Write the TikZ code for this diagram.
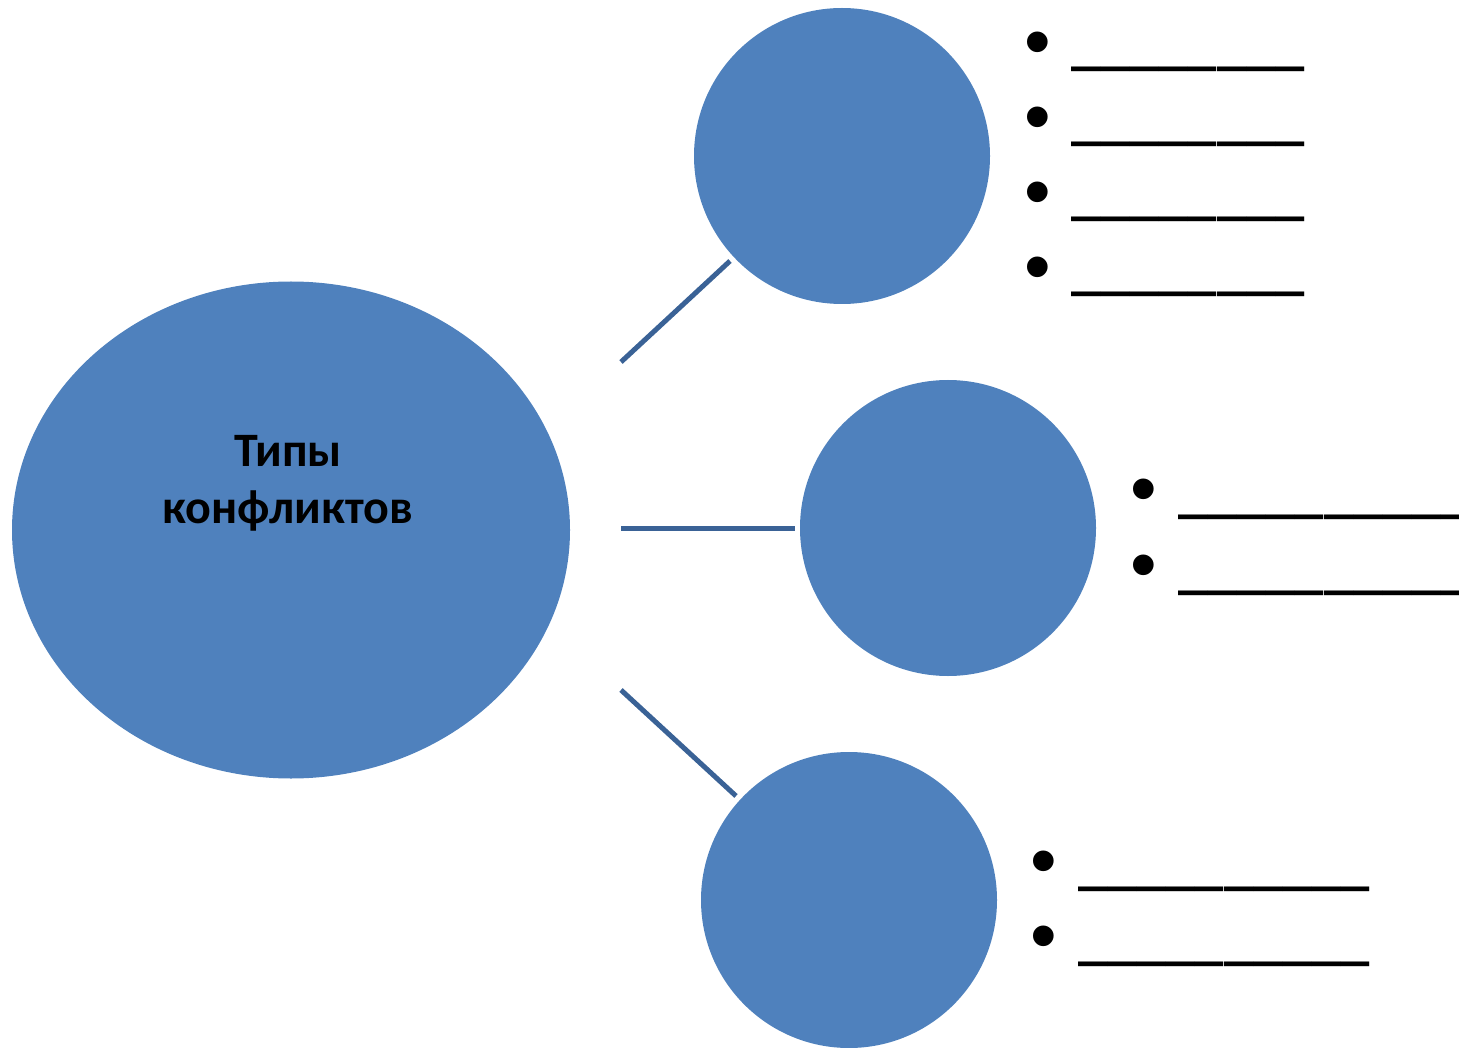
\documentclass[tikz,border=0pt]{standalone}
\usepackage{fontspec}
\setmainfont{Carlito}
\newfontfamily\ulfont{Liberation Sans}
\usetikzlibrary{shapes.geometric}
\definecolor{blobfill}{HTML}{4F81BD}
\definecolor{linkcol}{HTML}{3A6296}
\tikzset{
  blob/.style={shape=ellipse,fill=blobfill,draw=none,inner sep=0pt},
  circ/.style={shape=circle,fill=blobfill,draw=none,inner sep=0pt,minimum size=296pt},
  link/.style={draw=linkcol,line width=5pt},
  bul/.style={inner sep=0pt,anchor=center,font=\ulfont\fontsize{76}{76}\selectfont},
  uline/.style={inner sep=0pt,anchor=base west,font=\bfseries\fontsize{58.6}{60}\selectfont},
  title/.style={inner sep=0pt,align=center,font=\bfseries\fontsize{48}{57}\selectfont}
}
\begin{document}
\begin{tikzpicture}[x=1pt,y=-1pt]
\useasboundingbox (0,0) rectangle (1459,1048);
\node[blob,minimum width=558pt,minimum height=497pt] (big) at (291,530) {};
\node[title] (lbl) at (288,483) {Типы\\конфликтов};
\node[circ] (c1) at (842,156) {};
\node[circ] (c2) at (948,528) {};
\node[circ] (c3) at (849,900) {};
\coordinate (a1) at (621,362); \coordinate (e1) at (730,261);
\coordinate (a2) at (621,528); \coordinate (e2) at (795,528);
\coordinate (a3) at (621,690); \coordinate (e3) at (736,796);
\draw[link] (a1) -- (e1);
\draw[link] (a2) -- (e2);
\draw[link] (a3) -- (e3);
\foreach \y [count=\i] in {41,116,191,266}{
  \node[bul] (b1\i) at (1038,\y+9) {•};
  \node[uline] (u1\i) at (1071,\y+23) {\_\_\_\_\_\_\_\_};
}
\foreach \y [count=\i] in {488,564}{
  \node[bul] (b2\i) at (1144,\y+9) {•};
  \node[uline] (u2\i) at (1178,\y+23) {\_\_\_\_\_\_\_\_\_\_};
}
\foreach \y [count=\i] in {860,935}{
  \node[bul] (b3\i) at (1044,\y+9) {•};
  \node[uline] (u3\i) at (1078,\y+23) {\_\_\_\_\_\_\_\_\_\_};
}
\end{tikzpicture}
\end{document}
